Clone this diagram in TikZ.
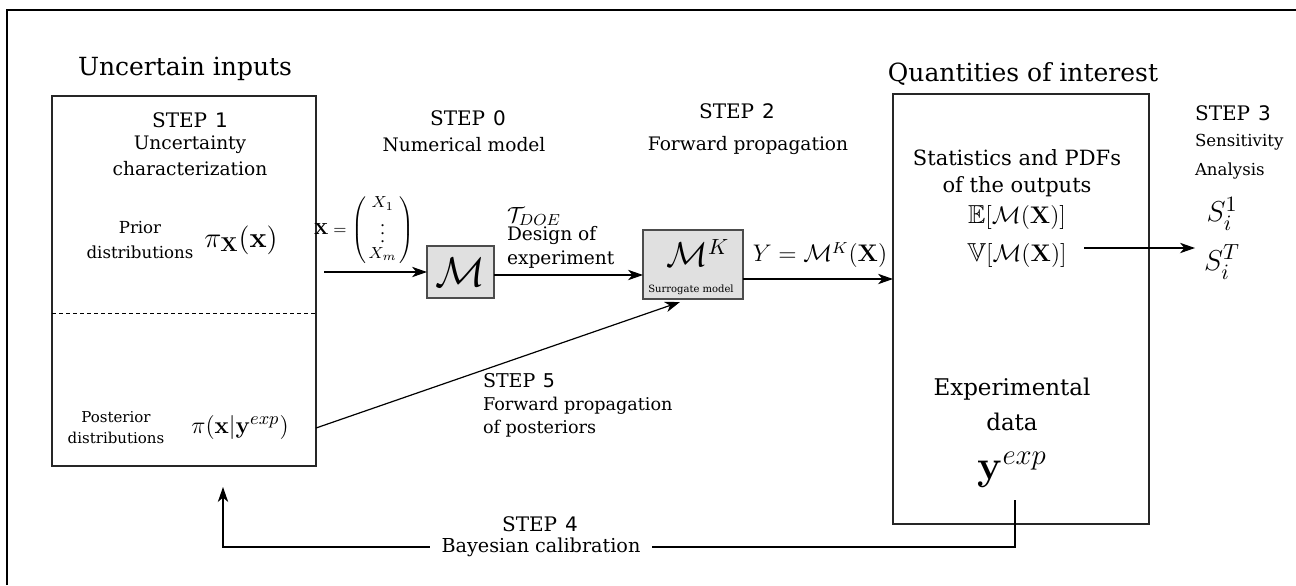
\documentclass[tikz,border=0pt]{standalone}
\usepackage{amsmath,amssymb}
\usepackage[no-math]{fontspec}
\setmainfont{DejaVu Serif}
\setsansfont{DejaVu Sans}
\usetikzlibrary{arrows.meta,calc}
\newcommand\myfs[1]{\fontsize{#1}{#1}\selectfont}
\newcommand\stp[1]{STEP\hspace{0.4em}{\sffamily #1}}
\begin{document}
\begin{tikzpicture}[x=0.5pt,y=-0.5pt,
  every node/.style={inner sep=0pt,outer sep=0pt},
  frame/.style={line width=0.75pt},
  box/.style={draw=black!85,line width=0.6pt},
  model/.style={draw=black!70,fill=black!12,line width=0.6pt},
  conn/.style={line width=0.6pt,-{Stealth[length=7.5pt,width=5.2pt,inset=2.2pt]}},
  plain/.style={line width=0.6pt},
  ttl/.style={font=\myfs{12.5}},
  stl/.style={font=\myfs{10}},
  dsc/.style={font=\myfs{9.3}},
]
\useasboundingbox (0,0) rectangle (1296,585);
\draw[frame] (7,585) -- (7,10) -- (1296,10);

% boxes
\node[box,anchor=north west,minimum width=132pt,minimum height=185pt] (inbox) at (52,96) {};
\node[box,anchor=north west,minimum width=128pt,minimum height=215pt] (outbox) at (893,94) {};
\coordinate (dl) at (52,313);
\coordinate (dr) at (316,313);
\draw[dash pattern=on 2pt off 1.5pt,line width=0.5pt] (dl) -- (dr);
\node[model,minimum width=33.5pt,minimum height=26pt,font=\myfs{20}] (M) at (460.5,272) {$\mathcal{M}$};
\node[model,minimum width=50pt,minimum height=34.5pt] (MK) at (693,264.5) {};
\node[font=\myfs{16}] (MKl) at (698,253) {$\mathcal{M}^K$};
\node[font=\myfs{5}] (sur) at (691,290) {Surrogate model};

% titles
\node[ttl,anchor=base] (unc) at (185,75) {Uncertain inputs};
\node[ttl,anchor=base] (qoi) at (1023,81) {Quantities of interest};

% step 1
\node[stl,anchor=base] (s1) at (190,127) {\stp{1}};
\node[dsc,anchor=base] (s1a) at (190,149) {Uncertainty};
\node[dsc,anchor=base] (s1b) at (190,175) {characterization};
\node[font=\myfs{8.3},anchor=base] (pr1) at (140,233) {Prior};
\node[font=\myfs{8.3},anchor=base] (pr2) at (140,258) {distributions};
\node[font=\myfs{14}] (pix) at (241,240) {$\pi_{\mathbf{X}}(\mathbf{x})$};
\node[font=\myfs{7.5},anchor=base] (po1) at (116,422) {Posterior};
\node[font=\myfs{7.5},anchor=base] (po2) at (116,443) {distributions};
\node[font=\myfs{13}] (pipost) at (240,427) {$\pi(\mathbf{x}|\mathbf{y}^{exp})$};

% step 0
\node[stl,anchor=base] (s0) at (468,125) {\stp{0}};
\node[dsc,anchor=base] (s0a) at (464,151) {Numerical model};
\node[font=\myfs{8}] (xvec) at (364,230) {\setlength{\arraycolsep}{1.2pt}$\mathbf{X}=\left(\begin{array}{c}X_1\\ \vdots\\ X_m\end{array}\right)$};
\node[font=\myfs{11},anchor=base west] (tdoe) at (507,222) {$\mathcal{T}_{DOE}$};
\node[dsc,anchor=base west] (doe1) at (507,240) {Design of};
\node[dsc,anchor=base west] (doe2) at (507,264) {experiment};

% step 2
\node[stl,anchor=base] (s2) at (737,118) {\stp{2}};
\node[dsc,anchor=base] (s2a) at (748,150) {Forward propagation};
\node[font=\myfs{12}] (ylab) at (820,255) {$Y=\mathcal{M}^K(\mathbf{X})$};

% outputs
\node[font=\myfs{10.5},anchor=base] (st1) at (1017,165) {Statistics and PDFs};
\node[font=\myfs{10.5},anchor=base] (st2) at (1017,192) {of the outputs};
\node[font=\myfs{13}] (ex) at (1017,217) {$\mathbb{E}[\mathcal{M}(\mathbf{X})]$};
\node[font=\myfs{13}] (vx) at (1017,255) {$\mathbb{V}[\mathcal{M}(\mathbf{X})]$};
\node[font=\myfs{11.5},anchor=base] (ed1) at (1012,395) {Experimental};
\node[font=\myfs{11.5},anchor=base] (ed2) at (1012,430) {data};
\node[font=\myfs{20}] (yexp) at (1012,470) {$\mathbf{y}^{exp}$};

% step 3
\node[stl,anchor=base] (s3) at (1233,120) {\stp{3}};
\node[font=\myfs{8.3},anchor=base west] (s3a) at (1195,146) {Sensitivity};
\node[font=\myfs{8.3},anchor=base west] (s3b) at (1195,175) {Analysis};
\node[font=\myfs{15}] (S1) at (1222,214) {$S_i^1$};
\node[font=\myfs{15}] (ST) at (1222,262) {$S_i^T$};

% step 5
\node[font=\myfs{9.5},anchor=base west] (s5) at (483,387) {\stp{5}};
\node[font=\myfs{8.8},anchor=base west] (s5a) at (483,410) {Forward propagation};
\node[font=\myfs{8.8},anchor=base west] (s5b) at (483,433) {of posteriors};

% step 4
\node[font=\myfs{10},anchor=base] (s4) at (540,531) {\stp{4}};
\node[font=\myfs{9.6},fill=white,inner xsep=6pt,inner ysep=2pt] (bay) at (541,547) {Bayesian calibration};

% connectors
\coordinate (xin) at (324,272);
\draw[conn] (xin) -- (M.west);
\draw[conn] ($(M.east)+(0,3)$) -- ($(MK.west)+(0,10.5)$);
\coordinate (a3) at ($(MK.east)+(0,14.5)$);
\draw[conn] (a3) -- (a3 -| outbox.west);
\coordinate (a4) at (1084,248);
\coordinate (a4e) at (1195,248);
\draw[conn] (a4) -- (a4e);
\coordinate (p5) at ($(inbox.south east)+(0,-38)$);
\coordinate (p5e) at ($(MK.south)+(-13,3)$);
\draw[conn] (p5) -- (p5e);
\coordinate (yb) at (1015,500);
\coordinate (cal) at (223,487);
\draw[plain] (yb) |- (bay.east);
\draw[conn] (bay.west) -| (cal);
\end{tikzpicture}
\end{document}
